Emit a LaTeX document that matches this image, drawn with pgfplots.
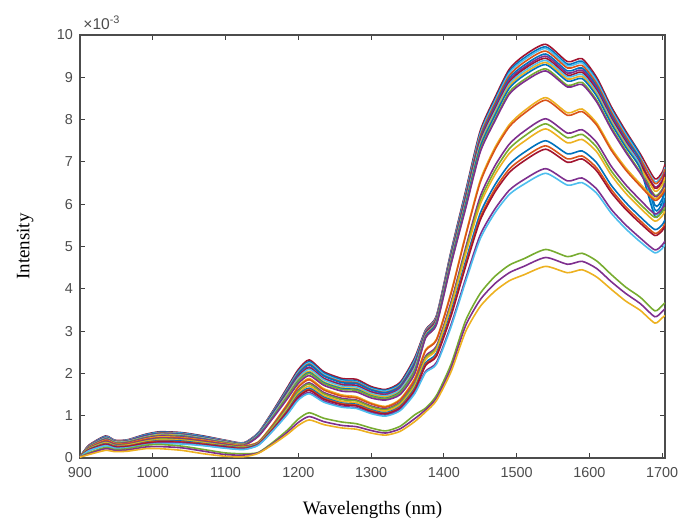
\documentclass[border=0pt]{standalone}
\usepackage{pgfplots}
\pgfplotsset{compat=1.18}
\usepackage{pgfplotstable}
\usepackage{fontspec}
\setmainfont{Liberation Serif}
\setsansfont{Liberation Sans}

% MATLAB default line colours
\definecolor{mblue}{RGB}{0,114,189}
\definecolor{morange}{RGB}{217,83,25}
\definecolor{myellow}{RGB}{237,177,32}
\definecolor{mpurple}{RGB}{126,47,142}
\definecolor{mgreen}{RGB}{119,172,48}
\definecolor{mcyan}{RGB}{77,190,238}
\definecolor{mred}{RGB}{162,20,47}

% intensities in units of 1e-3
\pgfplotstableread{
x s1 s2 s3 s4 s5 s6 s7 s8 s9 s10 s11 s12 s13 s14 s15 s16 s17 s18 s19 s20 s21 s22 s23 s24 s25
900 0.02 0.02 0.02 0.02 0.02 0.02 0.02 0.02 0.02 0.02 0.02 0.02 0.02 0.02 0.02 0.02 0.02 0.02 0.02 0.02 0.02 0.02 0.02 0.02 0.02
912 0.30 0.29 0.29 0.29 0.28 0.28 0.27 0.27 0.26 0.26 0.26 0.25 0.24 0.23 0.23 0.22 0.21 0.20 0.19 0.19 0.17 0.17 0.12 0.10 0.08
935 0.52 0.51 0.50 0.49 0.49 0.48 0.47 0.47 0.46 0.45 0.44 0.44 0.42 0.41 0.39 0.37 0.36 0.34 0.33 0.32 0.30 0.29 0.25 0.22 0.18
948 0.42 0.41 0.41 0.40 0.39 0.39 0.38 0.38 0.37 0.36 0.36 0.35 0.34 0.33 0.32 0.30 0.29 0.28 0.27 0.26 0.24 0.23 0.20 0.18 0.15
965 0.43 0.42 0.42 0.41 0.40 0.40 0.39 0.39 0.38 0.37 0.37 0.36 0.34 0.34 0.32 0.31 0.30 0.28 0.28 0.27 0.25 0.24 0.22 0.19 0.16
990 0.56 0.55 0.54 0.53 0.53 0.52 0.50 0.50 0.49 0.48 0.48 0.47 0.45 0.44 0.42 0.40 0.39 0.37 0.36 0.35 0.32 0.31 0.30 0.26 0.22
1010 0.62 0.61 0.60 0.59 0.58 0.57 0.56 0.56 0.55 0.53 0.53 0.52 0.50 0.48 0.47 0.45 0.43 0.41 0.40 0.38 0.36 0.34 0.32 0.27 0.22
1040 0.60 0.59 0.58 0.57 0.56 0.55 0.54 0.54 0.53 0.52 0.51 0.50 0.48 0.47 0.45 0.43 0.42 0.40 0.38 0.37 0.35 0.33 0.28 0.24 0.18
1070 0.52 0.51 0.50 0.49 0.49 0.48 0.47 0.47 0.46 0.45 0.44 0.44 0.42 0.41 0.39 0.37 0.36 0.34 0.33 0.32 0.30 0.29 0.20 0.16 0.10
1100 0.42 0.41 0.41 0.40 0.39 0.39 0.38 0.38 0.37 0.36 0.36 0.35 0.34 0.33 0.32 0.30 0.29 0.28 0.27 0.26 0.24 0.23 0.12 0.08 0.04
1125 0.36 0.35 0.35 0.34 0.34 0.33 0.32 0.32 0.32 0.31 0.31 0.30 0.29 0.28 0.27 0.26 0.25 0.24 0.23 0.22 0.21 0.20 0.10 0.07 0.03
1145 0.60 0.59 0.59 0.58 0.57 0.56 0.55 0.55 0.53 0.53 0.52 0.51 0.38 0.37 0.36 0.35 0.34 0.33 0.32 0.32 0.31 0.30 0.13 0.12 0.11
1165 1.11 1.09 1.08 1.07 1.06 1.03 1.02 1.01 0.98 0.97 0.96 0.94 0.79 0.78 0.75 0.74 0.71 0.69 0.68 0.67 0.65 0.64 0.37 0.34 0.32
1185 1.67 1.64 1.62 1.60 1.58 1.55 1.53 1.51 1.48 1.45 1.44 1.40 1.28 1.26 1.21 1.19 1.16 1.12 1.10 1.09 1.05 1.03 0.66 0.61 0.56
1200 2.09 2.05 2.03 2.00 1.98 1.94 1.91 1.89 1.85 1.82 1.80 1.76 1.69 1.67 1.60 1.58 1.53 1.49 1.46 1.44 1.40 1.37 0.92 0.84 0.77
1215 2.32 2.28 2.25 2.22 2.20 2.15 2.12 2.10 2.05 2.02 2.00 1.95 1.88 1.85 1.78 1.75 1.70 1.65 1.62 1.60 1.55 1.52 1.07 0.98 0.90
1235 2.04 2.01 1.98 1.95 1.94 1.89 1.87 1.85 1.80 1.78 1.76 1.72 1.64 1.61 1.55 1.52 1.48 1.44 1.41 1.39 1.35 1.32 0.94 0.86 0.79
1260 1.88 1.85 1.82 1.80 1.78 1.74 1.72 1.70 1.66 1.64 1.62 1.58 1.49 1.46 1.41 1.38 1.34 1.30 1.28 1.26 1.22 1.20 0.85 0.77 0.71
1280 1.86 1.82 1.80 1.78 1.76 1.72 1.70 1.68 1.64 1.62 1.60 1.56 1.45 1.42 1.37 1.35 1.31 1.27 1.25 1.23 1.19 1.17 0.81 0.74 0.68
1300 1.69 1.66 1.64 1.62 1.61 1.57 1.55 1.53 1.50 1.47 1.46 1.42 1.30 1.28 1.23 1.21 1.17 1.14 1.12 1.10 1.07 1.05 0.71 0.65 0.59
1320 1.62 1.60 1.58 1.55 1.54 1.51 1.48 1.47 1.44 1.41 1.40 1.37 1.22 1.20 1.16 1.14 1.11 1.07 1.05 1.04 1.01 0.99 0.64 0.59 0.54
1340 1.79 1.76 1.73 1.71 1.69 1.66 1.63 1.62 1.58 1.56 1.54 1.50 1.39 1.37 1.32 1.30 1.26 1.22 1.20 1.18 1.15 1.12 0.75 0.69 0.63
1360 2.37 2.33 2.30 2.26 2.24 2.19 2.16 2.14 2.09 2.06 2.04 1.99 1.88 1.85 1.78 1.75 1.70 1.65 1.62 1.60 1.55 1.52 1.02 0.93 0.86
1375 3.03 3.01 3.00 2.98 2.96 2.95 2.93 2.91 2.90 2.88 2.85 2.84 2.56 2.54 2.41 2.37 2.33 2.25 2.21 2.19 2.05 2.02 1.18 1.14 1.09
1390 3.37 3.35 3.34 3.32 3.29 3.28 3.26 3.24 3.23 3.21 3.17 3.16 2.81 2.79 2.65 2.61 2.57 2.48 2.44 2.41 2.26 2.22 1.48 1.42 1.36
1410 4.89 4.86 4.84 4.81 4.78 4.75 4.73 4.70 4.68 4.65 4.60 4.58 3.92 3.89 3.69 3.63 3.58 3.45 3.39 3.36 3.15 3.10 2.22 2.13 2.04
1430 6.31 6.27 6.24 6.20 6.16 6.13 6.10 6.06 6.03 6.00 5.93 5.90 5.28 5.25 4.97 4.90 4.82 4.65 4.58 4.53 4.24 4.17 3.25 3.13 2.99
1450 7.73 7.68 7.65 7.60 7.54 7.51 7.47 7.43 7.39 7.35 7.27 7.23 6.56 6.51 6.18 6.08 5.99 5.78 5.68 5.62 5.27 5.18 3.89 3.74 3.58
1470 8.51 8.46 8.42 8.37 8.31 8.27 8.22 8.18 8.13 8.09 8.00 7.96 7.33 7.28 6.90 6.79 6.69 6.45 6.35 6.28 5.88 5.79 4.29 4.12 3.94
1490 9.19 9.14 9.10 9.04 8.98 8.93 8.88 8.84 8.79 8.74 8.65 8.60 7.88 7.83 7.42 7.31 7.20 6.94 6.83 6.75 6.33 6.23 4.56 4.38 4.19
1510 9.51 9.45 9.41 9.35 9.28 9.23 9.19 9.14 9.09 9.04 8.94 8.89 8.20 8.14 7.72 7.60 7.48 7.22 7.10 7.02 6.58 6.47 4.71 4.53 4.33
1540 9.78 9.72 9.68 9.62 9.55 9.50 9.45 9.40 9.35 9.30 9.20 9.15 8.52 8.46 8.02 7.90 7.78 7.50 7.38 7.30 6.84 6.73 4.93 4.74 4.53
1570 9.37 9.31 9.27 9.22 9.15 9.10 9.05 9.01 8.96 8.91 8.81 8.77 8.16 8.10 7.68 7.57 7.45 7.19 7.07 6.99 6.55 6.45 4.76 4.58 4.38
1590 9.44 9.38 9.34 9.28 9.22 9.17 9.12 9.07 9.02 8.97 8.88 8.83 8.25 8.19 7.76 7.65 7.53 7.26 7.14 7.07 6.62 6.51 4.84 4.65 4.45
1610 9.00 8.94 8.91 8.85 8.79 8.74 8.69 8.65 8.60 8.56 8.46 8.42 7.92 7.87 7.46 7.35 7.24 6.98 6.86 6.79 6.36 6.26 4.66 4.48 4.28
1630 8.31 8.26 8.23 8.18 8.12 8.08 8.03 7.99 7.95 7.91 7.82 7.78 7.33 7.28 6.90 6.79 6.69 6.45 6.35 6.28 5.88 5.79 4.34 4.17 3.99
1650 7.73 7.68 7.65 7.60 7.54 7.51 7.47 7.43 7.39 7.35 7.27 7.23 6.86 6.81 6.46 6.36 6.26 6.04 5.94 5.88 5.51 5.42 4.04 3.89 3.71
1670 7.19 7.14 7.11 7.07 7.02 6.98 6.95 6.91 6.87 6.84 6.76 6.73 6.48 6.43 6.10 6.00 5.91 5.70 5.61 5.55 5.20 5.11 3.80 3.65 3.49
1690 6.60 5.98 6.53 6.49 5.87 6.41 6.38 5.78 6.31 5.72 6.21 6.18 6.13 6.09 5.77 5.69 5.60 5.40 5.31 5.26 4.92 4.85 3.48 3.34 3.19
1700 6.75 6.12 6.68 6.64 6.02 6.56 6.52 5.92 6.45 5.86 6.35 6.31 6.26 6.22 5.89 5.81 5.72 5.51 5.42 5.37 5.03 4.95 3.60 3.46 3.31
1704 6.94 6.42 6.87 6.83 6.30 6.75 6.71 6.20 6.64 6.14 6.53 6.50 6.39 6.35 6.02 5.93 5.84 5.63 5.54 5.48 5.13 5.05 3.67 3.53 3.37
}\spectra

\begin{document}
\begin{tikzpicture}
\begin{axis}[
    name=spec,
    at={(0,0)}, anchor=south west,
    scale only axis,
    width=292.5pt, height=211.5pt,
    xmin=900, xmax=1704, ymin=0, ymax=10,
    xtick={900,1000,...,1700},
    ytick={0,1,...,10},
    axis line style={black!70, line width=0.6pt},
    tick style={black!75, line width=0.5pt},
    tick align=inside,
    major tick length=2.5pt,
    xtick pos=both, ytick pos=both,
    /pgf/number format/assume math mode=true,
    /pgf/number format/1000 sep={},
    ticklabel style={font=\sffamily\fontsize{7.2}{8}\selectfont, text=black!70},
    xticklabel style={yshift=-1pt},
    xlabel={Wavelengths (nm)},
    ylabel={Intensity},
    label style={font=\fontsize{9.5}{11}\selectfont},
    xlabel style={at={(axis description cs:0.5,-0.123)}, anchor=center},
    ylabel style={at={(axis description cs:-0.094,0.5)}, anchor=center},
    every axis plot/.append style={line width=0.8pt, smooth, tension=0.4},
]
\addplot[mred]    table[x=x,y=s1]{\spectra};
\addplot[mblue]   table[x=x,y=s2]{\spectra};
\addplot[mcyan]   table[x=x,y=s3]{\spectra};
\addplot[morange] table[x=x,y=s4]{\spectra};
\addplot[mblue]   table[x=x,y=s5]{\spectra};
\addplot[mpurple] table[x=x,y=s6]{\spectra};
\addplot[mred]    table[x=x,y=s7]{\spectra};
\addplot[mcyan]   table[x=x,y=s8]{\spectra};
\addplot[myellow] table[x=x,y=s9]{\spectra};
\addplot[mblue]   table[x=x,y=s10]{\spectra};
\addplot[mgreen]  table[x=x,y=s11]{\spectra};
\addplot[mpurple] table[x=x,y=s12]{\spectra};
\addplot[myellow] table[x=x,y=s13]{\spectra};
\addplot[morange] table[x=x,y=s14]{\spectra};
\addplot[mpurple] table[x=x,y=s15]{\spectra};
\addplot[mgreen]  table[x=x,y=s16]{\spectra};
\addplot[myellow] table[x=x,y=s17]{\spectra};
\addplot[mblue]   table[x=x,y=s18]{\spectra};
\addplot[morange] table[x=x,y=s19]{\spectra};
\addplot[mred]    table[x=x,y=s20]{\spectra};
\addplot[mpurple] table[x=x,y=s21]{\spectra};
\addplot[mcyan]   table[x=x,y=s22]{\spectra};
\addplot[mgreen]  table[x=x,y=s23]{\spectra};
\addplot[mpurple] table[x=x,y=s24]{\spectra};
\addplot[myellow] table[x=x,y=s25]{\spectra};
\end{axis}
\node[anchor=south west, inner sep=0pt, text=black!70, font=\sffamily\fontsize{7.8}{9}\selectfont]
    at ([xshift=1.5pt,yshift=2.5pt]spec.north west) {×10\textsuperscript{-3}};
\pgfresetboundingbox
\path[use as bounding box] (-40pt,-32.5pt) rectangle (299.5pt,229pt);
\end{tikzpicture}
\end{document}
